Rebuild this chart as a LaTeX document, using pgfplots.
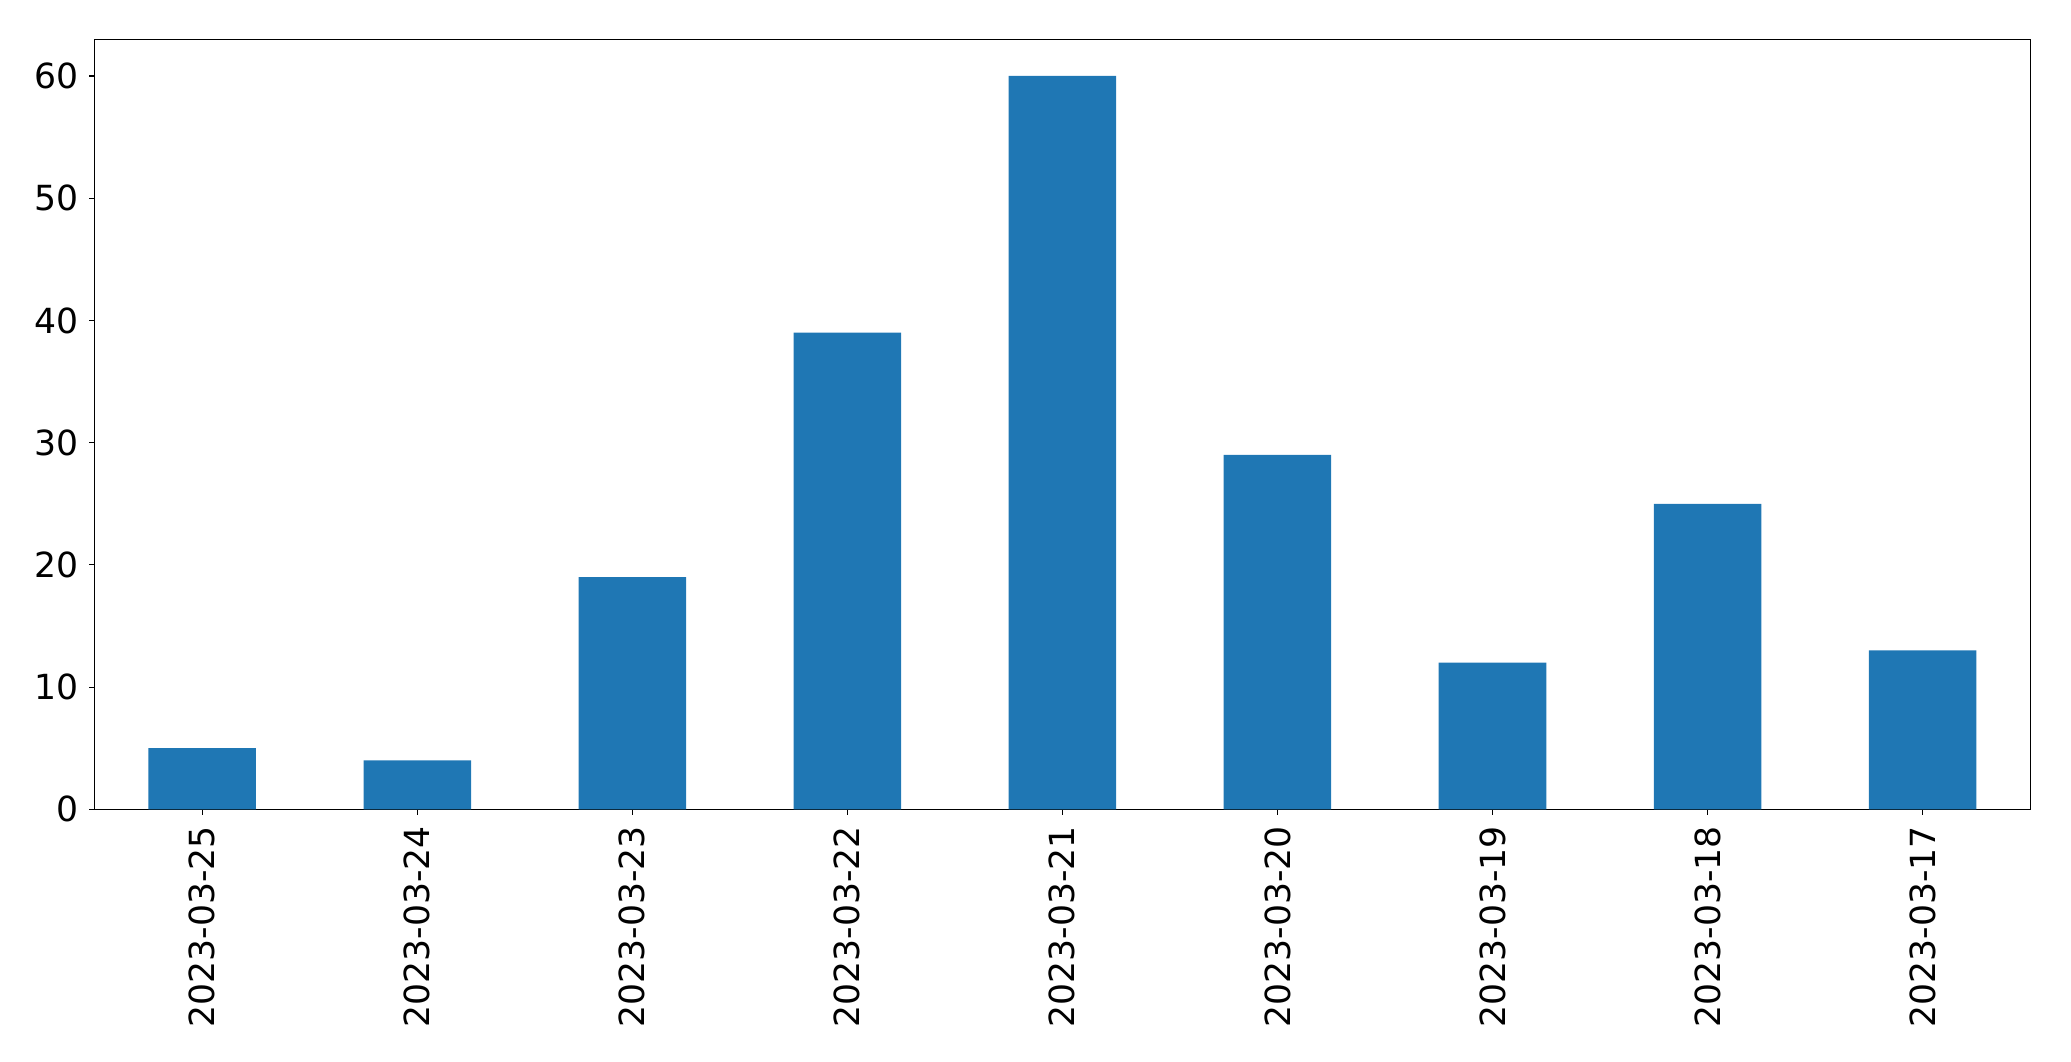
\documentclass[border=0pt]{standalone}
\usepackage{fontspec}
\setmainfont{DejaVu Sans}
\usepackage{pgfplots}
\pgfplotsset{compat=1.18}
\definecolor{mplblue}{HTML}{1F77B4}
\begin{document}
\fontsize{17.3pt}{20pt}\selectfont
\begin{tikzpicture}
\begin{axis}[
	scale only axis,
	width=967.7pt, height=385pt,
	xmin=-0.5, xmax=8.5,
	ymin=0, ymax=63,
	axis line style={line width=0.55pt},
	xtick={0,...,8},
	xticklabels={2023-03-25,2023-03-24,2023-03-23,2023-03-22,2023-03-21,2023-03-20,2023-03-19,2023-03-18,2023-03-17},
	ytick={0,10,...,60},
	tick align=outside,
	major tick length=2.6pt,
	tick style={line width=0.55pt, black},
	xtick pos=bottom, ytick pos=left,
	/pgf/number format/assume math mode=true,
	xticklabel style={rotate=90, anchor=east, inner sep=0pt},
	yticklabel style={anchor=east, inner sep=0pt},
	xticklabel shift=5.6pt,
	yticklabel shift=5.3pt,
	ybar, bar width=0.5,
]
\addplot[fill=mplblue, draw=none] coordinates {
	(0, 5)
	(1, 4)
	(2, 19)
	(3, 39)
	(4, 60)
	(5, 29)
	(6, 12)
	(7, 25)
	(8, 13)
};
\end{axis}
\pgfresetboundingbox
\path[use as bounding box] (-47.35pt,-125.85pt) rectangle (988.15pt,404.65pt);
\end{tikzpicture}
\end{document}
